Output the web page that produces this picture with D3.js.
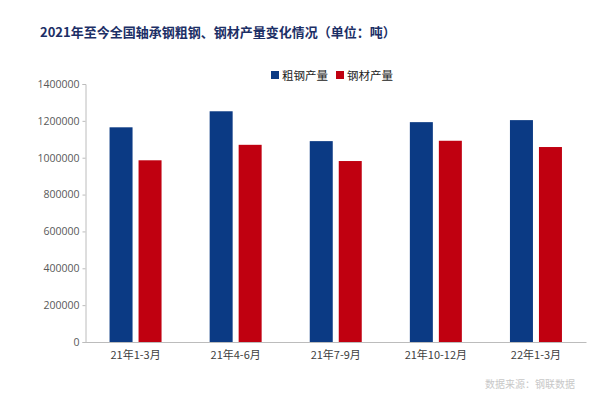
<!DOCTYPE html>
<html><head><meta charset="utf-8">
<script src="https://cdn.jsdelivr.net/npm/d3@7"></script>
<style>body{margin:0;background:#fff}svg{display:block}</style>
</head><body>
<svg id="c" width="613" height="395"></svg>
<script>
const categories = ["21年1-3月","21年4-6月","21年7-9月","21年10-12月","22年1-3月"];
const crudeSteel = [1165000, 1252000, 1090000, 1193000, 1204000];
const steelProducts = [986000, 1070000, 982000, 1092000, 1058000];
const seriesNames = ["粗钢产量","钢材产量"];
const seriesColors = ["#0b3a84","#c00010"];
const yTicks = [0,200000,400000,600000,800000,1000000,1200000,1400000];

const svg = d3.select("#c");
const m = {left:85.5, right:586, top:84, bottom:342};
const x = d3.scaleBand().domain(categories).range([m.left, m.right]);
const y = d3.scaleLinear().domain([0,1400000]).range([m.bottom, m.top]);
const xs = d3.scaleBand().domain(seriesNames).range([0, x.bandwidth()]).paddingInner(0.2);
const barW = 23, gap = 6;

svg.append("text").attr("x",40).attr("y",37)
  .attr("font-family","'Noto Sans CJK SC'").attr("font-weight","bold")
  .attr("font-size",13).attr("fill","#1c2f66")
  .text("2021年至今全国轴承钢粗钢、钢材产量变化情况（单位：吨）");

// y axis
const ya = svg.append("g").attr("transform",`translate(${m.left},0)`)
  .call(d3.axisLeft(y).tickValues(yTicks).tickSize(3).tickPadding(3).tickFormat(d3.format("d")));
ya.select(".domain").attr("stroke","#bcbcbc");
ya.selectAll(".tick line").attr("stroke","#bcbcbc");
ya.selectAll("text").attr("font-family","'Open Sans', sans-serif").attr("font-size",10.5).attr("fill","#595959");

// bars
const data = [crudeSteel, steelProducts];
data.forEach((vals,si)=>{
  svg.append("g").selectAll("rect").data(vals).join("rect")
    .attr("x",(d,i)=> x(categories[i]) + x.bandwidth()/2 + (si===0 ? -gap/2-barW : gap/2))
    .attr("width",barW)
    .attr("y",d=>y(d))
    .attr("height",d=>y(0)-y(d))
    .attr("fill",seriesColors[si]);
});

// x axis
const xa = svg.append("g").attr("transform",`translate(0,${m.bottom})`)
  .call(d3.axisBottom(x).tickSize(0).tickPadding(9));
xa.select(".domain").attr("stroke","#bcbcbc");
xa.selectAll("text").attr("font-family","'Noto Sans CJK SC'").attr("font-size",11).attr("fill","#404040");

// legend
const lg = svg.append("g");
const lx = [271, 336];
seriesNames.forEach((n,i)=>{
  lg.append("rect").attr("x",lx[i]).attr("y",71).attr("width",8).attr("height",8).attr("fill",seriesColors[i]);
  lg.append("text").attr("x",lx[i]+11).attr("y",79.5).attr("font-family","'Noto Sans CJK SC'")
    .attr("font-size",11.5).attr("fill","#222").text(n);
});

svg.append("text").attr("x",575).attr("y",388).attr("text-anchor","end")
  .attr("font-family","'Noto Sans CJK SC'").attr("font-size",10).attr("fill","#c8c8c8")
  .text("数据来源：钢联数据");
</script>
</body></html>
